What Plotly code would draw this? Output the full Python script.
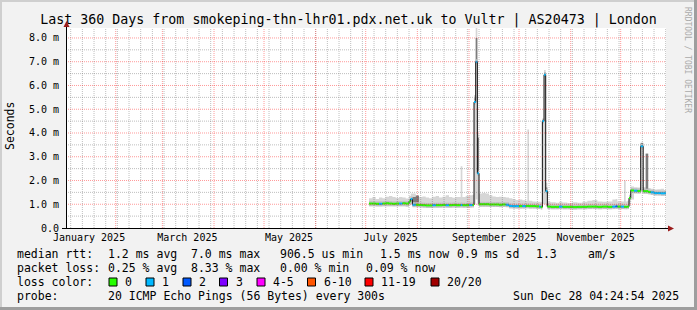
import plotly.graph_objects as go
import pandas as pd

# ---------------- data ----------------
START = "2025-01-02 04:24:54"
END = "2025-12-28 04:24:54"

dates = [
    "2025-07-03", "2025-07-05", "2025-07-07", "2025-07-09", "2025-07-11", "2025-07-13",
    "2025-07-15", "2025-07-17", "2025-07-19", "2025-07-21", "2025-07-23", "2025-07-25",
    "2025-07-27", "2025-07-28", "2025-07-29", "2025-07-31", "2025-08-02", "2025-08-04",
    "2025-08-06", "2025-08-08", "2025-08-10", "2025-08-12", "2025-08-14", "2025-08-16",
    "2025-08-18", "2025-08-20", "2025-08-22", "2025-08-24", "2025-08-27", "2025-08-28",
    "2025-08-30", "2025-09-01", "2025-09-03", "2025-09-04", "2025-09-05", "2025-09-06",
    "2025-09-07", "2025-09-09", "2025-09-11", "2025-09-13", "2025-09-15", "2025-09-17",
    "2025-09-19", "2025-09-21", "2025-09-23", "2025-09-25", "2025-09-27", "2025-09-29",
    "2025-10-01", "2025-10-03", "2025-10-05", "2025-10-06", "2025-10-07", "2025-10-09",
    "2025-10-11", "2025-10-13", "2025-10-14", "2025-10-15", "2025-10-16", "2025-10-17",
    "2025-10-18", "2025-10-20", "2025-10-23", "2025-10-25", "2025-10-27", "2025-10-30",
    "2025-11-02", "2025-11-05", "2025-11-08", "2025-11-11", "2025-11-14", "2025-11-17",
    "2025-11-20", "2025-11-23", "2025-11-26", "2025-11-28", "2025-11-29", "2025-12-01",
    "2025-12-03", "2025-12-04", "2025-12-05", "2025-12-06", "2025-12-07", "2025-12-09",
    "2025-12-11", "2025-12-13", "2025-12-14 12:00", "2025-12-16", "2025-12-17 12:00",
    "2025-12-19", "2025-12-21", "2025-12-23", "2025-12-25", "2025-12-27",
]

median_ms = [
    1.03, 1.03, 1.02, 1.02, 1.03, 1.04,
    1.03, 1.02, 1.03, 1.03, 1.04, 1.03,
    1.12, 1.22, 0.98, 0.98, 0.97, 0.96,
    0.95, 0.95, 0.96, 0.96, 0.96, 0.97,
    0.96, 0.96, 0.97, 0.96, 0.97, 0.96,
    0.96, 0.97, 0.97, 5.30, 7.00, 2.30,
    1.00, 1.00, 1.00, 0.99, 0.99, 0.99,
    0.98, 0.99, 0.98, 0.93, 0.92, 0.92,
    0.92, 0.92, 0.93, 0.93, 0.92, 0.92,
    0.91, 0.90, 0.88, 4.50, 6.45, 1.55,
    0.90, 0.89, 0.89, 0.90, 0.89, 0.89,
    0.88, 0.89, 0.89, 0.90, 0.90, 0.89,
    0.90, 0.89, 0.90, 0.91, 0.90, 0.90,
    0.89, 0.89, 0.90, 1.26, 1.58, 1.57,
    1.56, 3.44, 1.55, 1.55, 1.52,
    1.50, 1.47, 1.47, 1.46, 1.46,
]

loss = [
    0, 0, 0, 1, 0, 0,
    0, 0, 0, 1, 0, 0,
    0, 1, 1, 0, 0, 0,
    0, 0, 1, 0, 0, 0,
    1, 0, 0, 0, 1, 0,
    0, 1, 0, 1, 1, 1,
    0, 0, 0, 0, 0, 0,
    0, 0, 1, 1, 1, 1,
    0, 1, 0, 0, 0, 0,
    0, 1, 0, 1, 1, 1,
    0, 0, 0, 1, 0, 0,
    0, 0, 0, 0, 0, 0,
    0, 0, 1, 2, 0, 1,
    0, 0, 0, 0, 0, 1,
    0, 1, 0, 0, 0,
    1, 1, 1, 1, 1,
]

smoke_lo_ms = [
    0.90, 0.90, 0.91, 0.90, 0.90, 0.91,
    0.90, 0.92, 0.91, 0.90, 0.91, 0.88,
    0.95, 1.00, 0.90, 0.88, 0.88, 0.87,
    0.86, 0.85, 0.86, 0.86, 0.87, 0.86,
    0.87, 0.86, 0.86, 0.87, 0.86, 0.86,
    0.87, 0.86, 0.88, 1.00, 1.20, 0.95,
    0.90, 0.90, 0.90, 0.90, 0.90, 0.90,
    0.89, 0.90, 0.88, 0.85, 0.84, 0.84,
    0.84, 0.84, 0.85, 0.85, 0.84, 0.84,
    0.84, 0.84, 0.83, 1.00, 1.00, 0.90,
    0.83, 0.83, 0.83, 0.84, 0.83, 0.83,
    0.82, 0.83, 0.83, 0.83, 0.84, 0.83,
    0.83, 0.83, 0.84, 0.84, 0.83, 0.84,
    0.83, 0.83, 0.84, 1.00, 1.20, 1.45,
    1.45, 1.50, 1.45, 1.45, 1.45,
    1.42, 1.42, 1.42, 1.40, 1.40,
]

smoke_hi_ms = [
    1.25, 1.30, 1.22, 1.28, 1.25, 1.32,
    1.35, 1.30, 1.26, 1.30, 1.28, 1.24,
    1.35, 1.45, 1.45, 1.22, 1.30, 1.33,
    1.28, 1.25, 1.32, 1.35, 1.28, 1.32,
    1.38, 1.30, 1.27, 1.30, 2.60, 1.30,
    1.35, 1.38, 1.40, 5.60, 8.50, 3.95,
    1.45, 1.47, 1.45, 1.38, 1.33, 1.30,
    1.32, 1.30, 1.28, 1.25, 1.22, 1.18,
    1.20, 1.17, 1.15, 4.15, 1.15, 1.12,
    1.10, 1.10, 1.08, 4.60, 6.65, 1.90,
    1.10, 1.08, 1.06, 1.10, 1.07, 1.05,
    1.08, 1.06, 1.10, 1.15, 1.18, 1.12,
    1.10, 1.12, 1.20, 1.22, 1.12, 1.12,
    2.00, 1.12, 1.15, 1.40, 1.75, 1.72,
    1.70, 3.60, 1.72, 3.15, 1.68,
    1.65, 1.62, 1.63, 1.65, 1.60,
]

# top of the darker (inner) smoke where it shows above the median; None = hidden
dark_hi_ms = [None] * 13 + [None, 1.30, 1.37] + [None] * 17 + [5.45, 8.00, 3.80] + \
    [None] * 21 + [4.55, 6.55, 1.70] + [None] * 25 + [3.58, None, 3.13, None] + [None] * 5

y_tickvals = [0, 1, 2, 3, 4, 5, 6, 7, 8]
y_ticktext = ["0.0", "1.0 m", "2.0 m", "3.0 m", "4.0 m", "5.0 m", "6.0 m", "7.0 m", "8.0 m"]
y_minor_vals = [0.5, 1.5, 2.5, 3.5, 4.5, 5.5, 6.5, 7.5]

x_label_dates = ["2025-01-16", "2025-03-16", "2025-05-16", "2025-07-16", "2025-09-16", "2025-11-16"]
x_label_text = ["January 2025", "March 2025", "May 2025", "July 2025", "September 2025", "November 2025"]

loss_labels = ["0", "1", "2", "3", "4-5", "6-10", "11-19", "20/20"]
loss_lo = [0, 1, 2, 3, 4, 6, 11, 20]
loss_hi = [0, 1, 2, 3, 5, 10, 19, 20]
loss_colors = ["#26ff00", "#00b8ff", "#0059ff", "#7e00ff", "#ff00ff", "#ff5500", "#ff0000", "#a10000"]

title_text = "Last 360 Days from smokeping-thn-lhr01.pdx.net.uk to Vultr | AS20473 | London"
rtt_stats = ["1.2 ms avg", "7.0 ms max", "906.5 us min", "1.5 ms now", "0.9 ms sd", "1.3", "am/s"]
loss_stats = ["0.25 % avg", "8.33 % max", "0.00 % min", "0.09 % now"]
probe_text = "20 ICMP Echo Pings (56 Bytes) every 300s"
stamp_text = "Sun Dec 28 04:24:54 2025"

# ---------------- layout geometry (pixels) ----------------
W_FIG, H_FIG = 697, 310
L, T, PW, PH = 66, 28, 600, 200
MONO = "DejaVu Sans Mono"


def PX(x):
    return (x - L) / PW


def PY(y):
    return (T + PH - y) / PH


xs = dates + [END]


def steps(vals):
    return list(vals) + [vals[-1]]


def segments(vals, keep=None):
    sx, sy = [], []
    for i, v in enumerate(vals):
        if keep is not None and not keep(i):
            continue
        sx += [xs[i], xs[i + 1], None]
        sy += [v, v, None]
    return sx, sy


fig = go.Figure()

# light smoke
fig.add_trace(go.Scatter(x=xs, y=steps(smoke_lo_ms), mode="lines", line=dict(width=0, shape="hv"),
                         hoverinfo="skip", showlegend=False))
fig.add_trace(go.Scatter(x=xs, y=steps(smoke_hi_ms), mode="lines", line=dict(width=0, shape="hv"),
                         fill="tonexty", fillcolor="#d6d6d6", hoverinfo="skip", showlegend=False))

# dark inner smoke polygons
dx, dy = [], []
for i, d in enumerate(dark_hi_ms):
    if d is None:
        continue
    x0, x1 = xs[i], xs[i + 1]
    m = median_ms[i]
    dx += [x0, x1, x1, x0, x0, None]
    dy += [m, m, d, d, m, None]
fig.add_trace(go.Scatter(x=dx, y=dy, mode="lines", line=dict(width=0), fill="toself",
                         fillcolor="#7c7c7c", hoverinfo="skip", showlegend=False))

# smoke core around the median (horizontal pieces only)
cx, cy = segments(median_ms)
fig.add_trace(go.Scatter(x=cx, y=cy, mode="lines", line=dict(width=5, color="#c0c0c0"),
                         hoverinfo="skip", showlegend=False))

# black median connector
fig.add_trace(go.Scatter(x=xs, y=steps(median_ms), mode="lines",
                         line=dict(width=1, shape="hv", color="#101010"),
                         hoverinfo="skip", showlegend=False))

# loss coloured median segments
for lab, lo, hi, col in zip(loss_labels, loss_lo, loss_hi, loss_colors):
    sx, sy = segments(median_ms, keep=lambda i, lo=lo, hi=hi: lo <= loss[i] <= hi)
    if sx:
        fig.add_trace(go.Scatter(x=sx, y=sy, mode="lines", line=dict(width=2, color=col),
                                 hoverinfo="skip", showlegend=False))

sundays = [d.strftime("%Y-%m-%d") for d in pd.date_range("2025-01-05", "2025-12-28", freq="7D")]
month_starts = [d.strftime("%Y-%m-%d") for d in pd.date_range("2025-02-01", "2025-12-01", freq="MS")]

RED_GRID = "rgba(255,0,0,0.40)"
GRAY_GRID = "rgba(110,110,110,0.45)"
DOTS = "1px,1px"

fig.update_layout(
    width=W_FIG, height=H_FIG,
    margin=dict(l=L, r=W_FIG - L - PW, t=T, b=H_FIG - T - PH, pad=0),
    paper_bgcolor="#f2f2f2", plot_bgcolor="#ffffff",
    showlegend=False,
    font=dict(family=MONO, color="#000000"),
    title=dict(text=title_text, x=0.5, xref="container", xanchor="center",
               y=1 - 19.5 / H_FIG, yanchor="middle", yref="container",
               font=dict(family=MONO, size=13.3, color="#000000")),
    xaxis=dict(type="date", range=[START, END], tickmode="array", tickvals=x_label_dates,
               ticktext=x_label_text, ticks="", showgrid=False, zeroline=False,
               showline=False, ticklabelstandoff=2,
               tickfont=dict(family=MONO, size=10, color="#000000"),
               fixedrange=True),
    yaxis=dict(range=[0, 8.42], tickmode="array", tickvals=y_tickvals, ticktext=y_ticktext,
               ticks="", showgrid=False, zeroline=False, showline=False,
               tickfont=dict(family=MONO, size=10, color="#000000"), ticklabelstandoff=6,
               fixedrange=True),
)

shapes = []
# grid (drawn over the data like rrdtool does)
for d in sundays:
    shapes.append(dict(type="line", xref="x", yref="paper", x0=d, x1=d, y0=0, y1=1,
                       line=dict(color=GRAY_GRID, width=1, dash=DOTS), layer="above"))
for v in y_minor_vals:
    shapes.append(dict(type="line", xref="paper", yref="y", x0=0, x1=1, y0=v, y1=v,
                       line=dict(color=GRAY_GRID, width=1, dash=DOTS), layer="above"))
for d in month_starts:
    shapes.append(dict(type="line", xref="x", yref="paper", x0=d, x1=d, y0=0, y1=1,
                       line=dict(color=RED_GRID, width=1, dash=DOTS), layer="above"))
for v in y_tickvals[1:]:
    shapes.append(dict(type="line", xref="paper", yref="y", x0=0, x1=1, y0=v, y1=v,
                       line=dict(color=RED_GRID, width=1, dash=DOTS), layer="above"))

ARROW = "#9b1c1c"
# axes and arrows
shapes.append(dict(type="line", xref="paper", yref="paper", x0=PX(66.5), x1=PX(66.5), y0=PY(228.5), y1=PY(24),
                   line=dict(color="#000000", width=1), layer="above"))
shapes.append(dict(type="path", xref="paper", yref="paper",
                   path=f"M {PX(63.5)} {PY(27)} L {PX(69.5)} {PY(27)} L {PX(66.5)} {PY(21)} Z",
                   fillcolor=ARROW, line=dict(color=ARROW, width=0), layer="above"))
shapes.append(dict(type="line", xref="paper", yref="paper", x0=PX(62), x1=PX(670), y0=PY(228.5), y1=PY(228.5),
                   line=dict(color="#000000", width=1), layer="above"))
shapes.append(dict(type="path", xref="paper", yref="paper",
                   path=f"M {PX(668)} {PY(225.5)} L {PX(668)} {PY(231.5)} L {PX(674)} {PY(228.5)} Z",
                   fillcolor=ARROW, line=dict(color=ARROW, width=0), layer="above"))
# frame shading
shapes.append(dict(type="rect", xref="paper", yref="paper", x0=PX(0), x1=PX(W_FIG), y0=PY(0), y1=PY(2),
                   fillcolor="#cfcfcf", line=dict(width=0), layer="below"))
shapes.append(dict(type="rect", xref="paper", yref="paper", x0=PX(0), x1=PX(2), y0=PY(0), y1=PY(H_FIG),
                   fillcolor="#cfcfcf", line=dict(width=0), layer="below"))
shapes.append(dict(type="rect", xref="paper", yref="paper", x0=PX(0), x1=PX(W_FIG), y0=PY(H_FIG - 3), y1=PY(H_FIG),
                   fillcolor="#9e9e9e", line=dict(width=0), layer="below"))
shapes.append(dict(type="rect", xref="paper", yref="paper", x0=PX(W_FIG - 3), x1=PX(W_FIG), y0=PY(0), y1=PY(H_FIG),
                   fillcolor="#9e9e9e", line=dict(width=0), layer="below"))

annotations = []


def text(x, y, s, size=11.5, anchor="left", color="#000000", angle=0):
    annotations.append(dict(xref="paper", yref="paper", x=PX(x), y=PY(y), text=s, showarrow=False,
                            xanchor=anchor, yanchor="middle", textangle=angle, borderpad=0,
                            font=dict(family=MONO, size=size, color=color)))


text(10, 126, "Seconds", size=11.5, anchor="center", angle=-90)
text(688, 60, "RRDTOOL / TOBI OETIKER", size=8, anchor="center", color="#aaaaaa", angle=90)

# legend lines
ROW1, ROW2, ROW3, ROW4 = 254, 268, 282, 296
text(16, ROW1, "median rtt:")
for x, s in zip([107, 190, 279, 379, 456, 535, 587], rtt_stats):
    text(x, ROW1, s)
text(16, ROW2, "packet loss:")
for x, s in zip([107, 190, 279, 365], loss_stats):
    text(x, ROW2, s)
text(16, ROW3, "loss color:")
box_x = [109, 146, 183, 219.5, 257, 307.5, 365, 431]
for bx, lab, col in zip(box_x, loss_labels, loss_colors):
    shapes.append(dict(type="rect", xref="paper", yref="paper", x0=PX(bx), x1=PX(bx + 8),
                       y0=PY(ROW3 - 4), y1=PY(ROW3 + 4), fillcolor=col,
                       line=dict(color="#000000", width=1)))
    text(bx + 15, ROW3, lab)
text(16, ROW4, "probe:")
text(107, ROW4, probe_text)
text(680, ROW4, stamp_text, anchor="right")

fig.update_layout(shapes=shapes, annotations=annotations)
fig.write_html("out.html")
